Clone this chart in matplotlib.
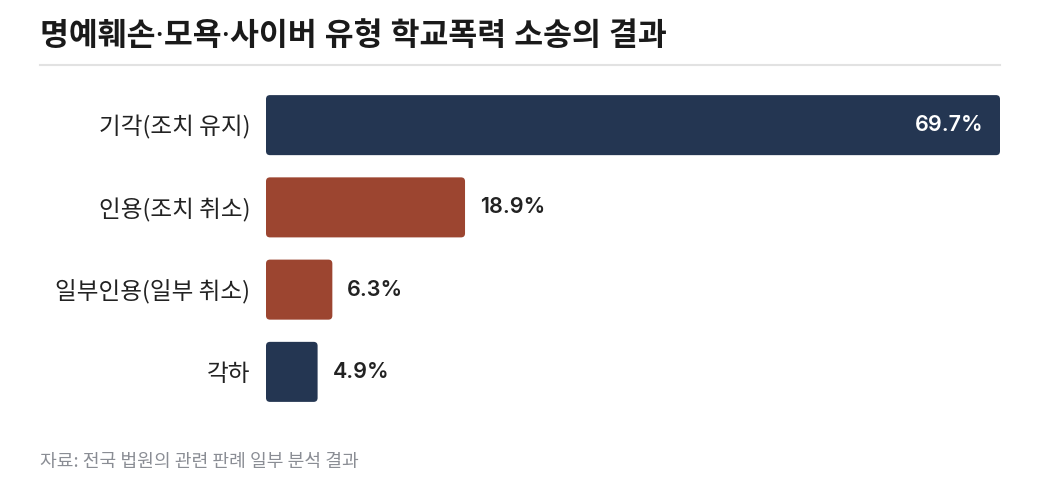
import matplotlib
matplotlib.use("Agg")
import matplotlib.pyplot as plt
from matplotlib.patches import FancyBboxPatch

plt.rcParams['font.family'] = ['Noto Sans CJK KR', 'DejaVu Sans']

categories = ["기각(조치 유지)", "인용(조치 취소)", "일부인용(일부 취소)", "각하"]
values = [69.7, 18.9, 6.3, 4.9]
colors = ["#243652", "#9c4530", "#9c4530", "#243652"]
value_labels = ["69.7%", "18.9%", "6.3%", "4.9%"]

title = "명예훼손·모욕·사이버 유형 학교폭력 소송의 결과"
source = "자료: 전국 법원의 관련 판례 일부 분석 결과"

W, H = 1040, 495
fig = plt.figure(figsize=(W / 100, H / 100), dpi=100)
fig.patch.set_facecolor("white")

ax_left, ax_right = 266 / W, 1000 / W
ax_top, ax_bottom = 1 - 84 / H, 1 - 413 / H
ax = fig.add_axes([ax_left, ax_bottom, ax_right - ax_left, ax_top - ax_bottom])

ypos = list(range(len(categories)))
bars = ax.barh(ypos, values, height=0.73, color=colors)
ax.set_xlim(0, 69.7)
ax.set_ylim(len(categories) - 0.5, -0.5)

px_per_x = (1000 - 266) / 69.7
px_per_y = (413 - 84) / 4.0
r = 4 / px_per_x
for b, c in zip(bars, colors):
    x0, y0 = b.get_x(), b.get_y()
    w, h = b.get_width(), b.get_height()
    b.set_visible(False)
    p = FancyBboxPatch((x0, y0), w, h,
                       boxstyle=f"round,pad=0,rounding_size={r}",
                       mutation_aspect=px_per_x / px_per_y,
                       facecolor=c, edgecolor="none")
    ax.add_patch(p)

val_family = ['Inter', 'Noto Sans CJK KR']
for i, (v, lab) in enumerate(zip(values, value_labels)):
    if v > 50:
        ax.text(v - 17 / px_per_x, i, lab, ha="right", va="center",
                color="white", fontsize=15.5, fontweight="semibold",
                family=val_family)
    else:
        ax.text(v + 15 / px_per_x, i, lab, ha="left", va="center",
                color="#222222", fontsize=15.5, fontweight="semibold",
                family=val_family)

ax.set_yticks(ypos)
ax.set_yticklabels(categories, fontsize=17, color="#222222", fontweight="medium")
ax.tick_params(axis="y", length=0, pad=11.5)
ax.set_xticks([])
for s in ax.spines.values():
    s.set_visible(False)

fig.text(40 / W, 1 - 37 / H, title, ha="left", va="center",
         fontsize=22.6, fontweight="bold", color="#1a1a1a",
         family=['Noto Sans', 'Noto Sans CJK KR'])
fig.add_artist(plt.Line2D([40 / W, 1000 / W], [1 - 65 / H, 1 - 65 / H],
                          color="#e2e2e2", linewidth=1.5))
fig.text(40 / W, 1 - 462 / H, source, ha="left", va="center",
         fontsize=13.1, color="#8a8d94")

fig.savefig("out.png", dpi=100, facecolor="white")
